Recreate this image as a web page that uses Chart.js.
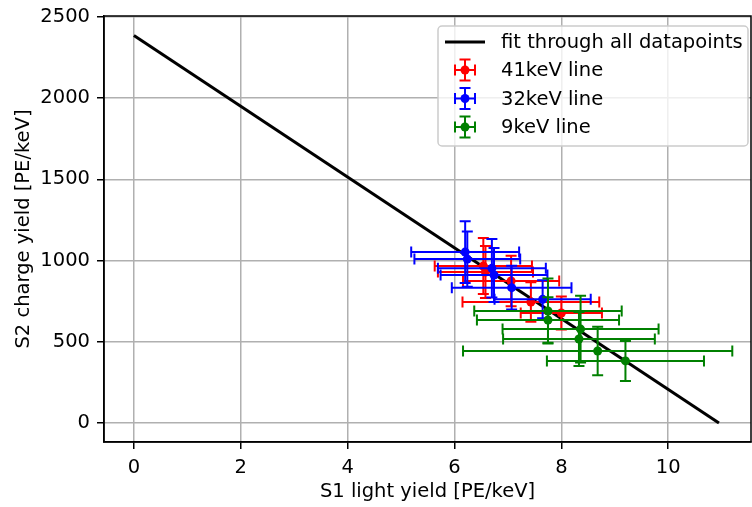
<!DOCTYPE html>
<html>
<head>
<meta charset="utf-8">
<script src="https://cdn.jsdelivr.net/npm/chart.js@4.4.0/dist/chart.umd.min.js"></script>
<style>
  body { margin: 0; background: #fff; }
  #contenedor { width: 752px; height: 507px; }
</style>
</head>
<body>
<div id="contenedor"><canvas id="grafico"></canvas></div>
<script>
// ticks de los ejes
const xTicks = [0, 2, 4, 6, 8, 10]
const yTicks = [0, 500, 1000, 1500, 2000, 2500]

// recta ajustada con todos los puntos
const fitX = [0, 10.95]
const fitY = [2385, 0]

// linea de 41keV
const redX = [6.54, 6.58, 7.06, 7.43, 8.00]
const redY = [966, 929, 874, 745, 677]
const redXErr = [0.91, 0.89, 0.90, 1.28, 0.76]
const redYErr = [172, 160, 155, 122, 102]

// linea de 32keV
const blueX = [6.20, 6.24, 6.70, 6.74, 7.07, 7.65]
const blueY = [1052, 1009, 952, 911, 833, 761]
const blueXErr = [1.01, 0.99, 1.01, 1.00, 1.12, 0.90]
const blueYErr = [190, 170, 180, 166, 135, 117]

// linea de 9keV
const greenX = [7.75, 7.75, 8.36, 8.33, 8.68, 9.20]
const greenY = [689, 634, 578, 517, 443, 382]
const greenXErr = [1.38, 1.33, 1.46, 1.42, 2.52, 1.47]
const greenYErr = [200, 140, 205, 166, 149, 123]

const CAP = 5.5
const FUENTE = 19.5

const aPuntos = (xs, ys) => xs.map((x, i) => ({ x: x, y: ys[i] }))

// barras de error dibujadas justo antes de los puntos de cada serie
const barrasError = {
    id: 'barrasError',
    beforeDatasetDraw(chart, args) {
        const ds = chart.data.datasets[args.index]
        if (!ds.xErr) return
        const sx = chart.scales.x
        const sy = chart.scales.y
        const ctx = chart.ctx
        ctx.save()
        ctx.strokeStyle = ds.borderColor
        ctx.lineWidth = 2
        ds.data.forEach((p, i) => {
            const px = sx.getPixelForValue(p.x)
            const py = sy.getPixelForValue(p.y)
            const x0 = sx.getPixelForValue(p.x - ds.xErr[i])
            const x1 = sx.getPixelForValue(p.x + ds.xErr[i])
            const y0 = sy.getPixelForValue(p.y - ds.yErr[i])
            const y1 = sy.getPixelForValue(p.y + ds.yErr[i])
            ctx.beginPath()
            ctx.moveTo(x0, py); ctx.lineTo(x1, py)
            ctx.moveTo(px, y0); ctx.lineTo(px, y1)
            ctx.moveTo(x0, py - CAP); ctx.lineTo(x0, py + CAP)
            ctx.moveTo(x1, py - CAP); ctx.lineTo(x1, py + CAP)
            ctx.moveTo(px - CAP, y0); ctx.lineTo(px + CAP, y0)
            ctx.moveTo(px - CAP, y1); ctx.lineTo(px + CAP, y1)
            ctx.stroke()
        })
        ctx.restore()
    }
}

// marco completo + leyenda estilo matplotlib
const marcoYLeyenda = {
    id: 'marcoYLeyenda',
    afterDraw(chart) {
        const ctx = chart.ctx
        const a = chart.chartArea
        ctx.save()
        ctx.strokeStyle = '#000'
        ctx.lineWidth = 1.5
        ctx.strokeRect(a.left, a.top, a.right - a.left, a.bottom - a.top)

        const bx = 438, by = 26, bw = 310, bh = 120
        ctx.beginPath()
        ctx.roundRect(bx, by, bw, bh, 4)
        ctx.fillStyle = 'rgba(255,255,255,0.8)'
        ctx.fill()
        ctx.strokeStyle = '#cccccc'
        ctx.lineWidth = 1.5
        ctx.stroke()

        ctx.font = FUENTE + 'px "DejaVu Sans"'
        ctx.textBaseline = 'middle'
        ctx.textAlign = 'left'
        const filas = [42, 70, 98.5, 127]
        chart.data.datasets.forEach((ds, i) => {
            const yy = filas[i]
            const cx = 465
            ctx.strokeStyle = ds.borderColor
            ctx.fillStyle = ds.borderColor
            if (!ds.xErr) {
                ctx.lineWidth = 3
                ctx.beginPath()
                ctx.moveTo(445, yy); ctx.lineTo(485, yy)
                ctx.stroke()
            } else {
                ctx.lineWidth = 2
                ctx.beginPath()
                ctx.moveTo(cx - 10, yy); ctx.lineTo(cx + 10, yy)
                ctx.moveTo(cx, yy - 10.5); ctx.lineTo(cx, yy + 10.5)
                ctx.moveTo(cx - 10, yy - CAP); ctx.lineTo(cx - 10, yy + CAP)
                ctx.moveTo(cx + 10, yy - CAP); ctx.lineTo(cx + 10, yy + CAP)
                ctx.moveTo(cx - CAP, yy - 10.5); ctx.lineTo(cx + CAP, yy - 10.5)
                ctx.moveTo(cx - CAP, yy + 10.5); ctx.lineTo(cx + CAP, yy + 10.5)
                ctx.stroke()
                ctx.beginPath()
                ctx.arc(cx, yy, 4.5, 0, Math.PI * 2)
                ctx.fill()
            }
            ctx.fillStyle = '#000'
            ctx.fillText(ds.label, 501, yy + 1)
        })
        ctx.restore()
    }
}

const serie = (label, color, xs, ys, xe, ye, orden) => ({
    type: 'scatter',
    label: label,
    data: aPuntos(xs, ys),
    xErr: xe,
    yErr: ye,
    borderColor: color,
    backgroundColor: color,
    pointRadius: 4.5,
    pointBorderWidth: 0,
    order: orden
})

Chart.defaults.font.family = 'DejaVu Sans'
Chart.defaults.font.size = FUENTE
Chart.defaults.color = '#000'

// sin el relleno extra que Chart.js reserva para los textos de los ticks
const sinRelleno = (scale) => {
    scale.paddingTop = 0
    scale.paddingBottom = 0
    scale.paddingLeft = 0
    scale.paddingRight = 0
}

const ejeComun = (ticks, titulo) => ({
    type: 'linear',
    afterBuildTicks: (scale) => { scale.ticks = ticks.map(v => ({ value: v })) },
    ticks: { padding: 7, color: '#000', font: { size: FUENTE }, callback: (v) => String(v) },
    grid: { color: '#b0b0b0', lineWidth: 1.5, tickColor: '#000', tickLength: 7, tickWidth: 1.5 },
    border: { color: '#000', width: 1.5 },
    title: { display: true, text: titulo, color: '#000', font: { size: FUENTE } }
})

const ejeX = ejeComun(xTicks, 'S1 light yield [PE/keV]')
ejeX.min = -0.56
ejeX.max = 11.55
ejeX.title.padding = { top: 4, bottom: 3 }
ejeX.afterFit = (scale) => { scale.height = 65; sinRelleno(scale) }

const ejeY = ejeComun(yTicks, 'S2 charge yield [PE/keV]')
ejeY.min = -117
ejeY.max = 2505
ejeY.title.padding = { top: 12, bottom: 4 }
ejeY.afterFit = (scale) => { scale.width = 104; sinRelleno(scale) }

new Chart(document.getElementById('grafico'), {
    type: 'scatter',
    data: {
        datasets: [
            {
                type: 'line',
                label: 'fit through all datapoints',
                data: aPuntos(fitX, fitY),
                borderColor: '#000',
                backgroundColor: '#000',
                borderWidth: 3,
                pointRadius: 0,
                fill: false,
                order: 4
            },
            serie('41keV line', 'red', redX, redY, redXErr, redYErr, 3),
            serie('32keV line', 'blue', blueX, blueY, blueXErr, blueYErr, 2),
            serie('9keV line', 'green', greenX, greenY, greenXErr, greenYErr, 1)
        ]
    },
    options: {
        responsive: true,
        maintainAspectRatio: false,
        devicePixelRatio: 1,
        animation: false,
        layout: { autoPadding: false, padding: { top: 16, right: 1, left: 0, bottom: 0 } },
        plugins: { legend: { display: false }, tooltip: { enabled: false } },
        scales: { x: ejeX, y: ejeY }
    },
    plugins: [barrasError, marcoYLeyenda]
})
</script>
</body>
</html>
